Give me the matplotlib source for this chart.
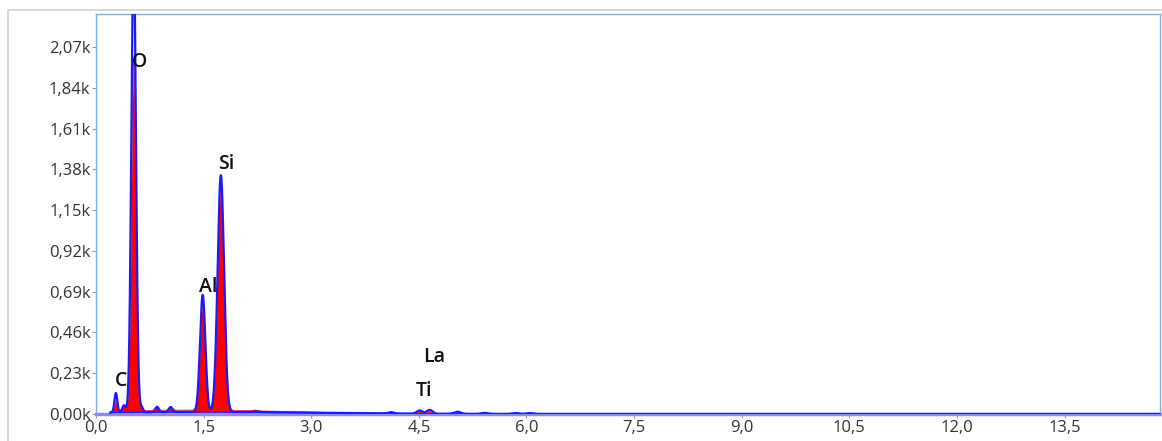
import numpy as np
import matplotlib.pyplot as plt
from matplotlib.patches import Rectangle
from matplotlib.ticker import FuncFormatter, MultipleLocator

# peak table: energy (keV), fitted height, measured height, sigma (keV)
peak_keV      = [0.277, 0.390, 0.525, 0.635, 0.850, 1.040, 1.487, 1.740, 2.220, 4.110, 4.510, 4.650, 5.040, 5.420, 5.850, 6.050]
peak_fit      = [110,   40,    2600,  30,    30,    28,    660,   1335,  6,     8,     18,    22,    12,    6,     5,     5]
peak_measured = [60,    30,    1980,  14,    16,    14,    600,   1255,  4,     4,     14,    16,    3,     2,     1,     1]
peak_sigma    = [0.020, 0.024, 0.032, 0.020, 0.024, 0.026, 0.037, 0.045, 0.035, 0.040, 0.040, 0.040, 0.045, 0.045, 0.045, 0.045]

# bremsstrahlung continuum as one broad hump: centre, height, sigma
continuum_fit  = (1.5, 12, 1.5)
continuum_meas = (1.4, 22, 1.3)

labels   = ['C', 'O', 'Al', 'Si', 'La', 'Ti']
label_xy = [(0.35, 186), (0.60, 1985), (1.56, 716), (1.81, 1410), (4.71, 321), (4.57, 130)]

energy = np.linspace(0.2, 15.0, 6000)

def gauss(x, mu, h, s):
    return h * np.exp(-0.5 * ((x - mu) / s) ** 2)

bg = gauss(energy, *continuum_fit)
fit = bg.copy()
meas = gauss(energy, *continuum_meas)
for e, hf, hm, s in zip(peak_keV, peak_fit, peak_measured, peak_sigma):
    fit += gauss(energy, e, hf, s)
    meas += gauss(energy, e, hm, s)

fig = plt.figure(figsize=(11.62, 4.41), dpi=100)
W, H = 1162, 441
ax = fig.add_axes([96 / W, 27 / H, 1064 / W, 400 / H])

# outer panel frame
fig.patches.append(Rectangle((8 / W, -0.1), 1.2, (441 - 10) / H + 0.1, transform=fig.transFigure,
                             fill=False, edgecolor='#cfcfcf', linewidth=1.2))

ax.fill_between(energy, 0, meas, color='#ff0000', linewidth=0, zorder=2)
ax.plot(energy, meas, color='#ff2020', linewidth=0.6, zorder=2)
ax.plot(energy, bg, color='#2020ff', linewidth=1.0, zorder=3)
ax.plot(energy, fit, color='#1a1aff', linewidth=1.6, zorder=4)

for t, (x, y) in zip(labels, label_xy):
    ax.text(x, y, t, ha='center', va='center', fontsize=14, fontweight='semibold',
            family=['Open Sans', 'DejaVu Sans'], color='#111111', zorder=5)

ax.set_xlim(0, 14.83)
ax.set_ylim(0, 2256)
ax.xaxis.set_major_locator(MultipleLocator(1.5))
ax.yaxis.set_major_locator(MultipleLocator(230))
ax.xaxis.set_major_formatter(FuncFormatter(lambda v, p: ('%.1f' % v).replace('.', ',')))
ax.yaxis.set_major_formatter(FuncFormatter(lambda v, p: ('%.2fk' % (v / 1000)).replace('.', ',')))

for lab in ax.get_xticklabels() + ax.get_yticklabels():
    lab.set_family(['Open Sans', 'DejaVu Sans'])
ax.tick_params(axis='both', labelsize=12, colors='#333333', length=3, width=0.8, pad=1)
ax.tick_params(axis='both', color='#999999')

for side in ['top', 'left', 'right']:
    ax.spines[side].set_color('#7ab0e6')
    ax.spines[side].set_linewidth(1.0)
ax.spines['bottom'].set_color('#8a8cf5')
ax.spines['bottom'].set_linewidth(2.5)

fig.savefig('out.png', dpi=100)
